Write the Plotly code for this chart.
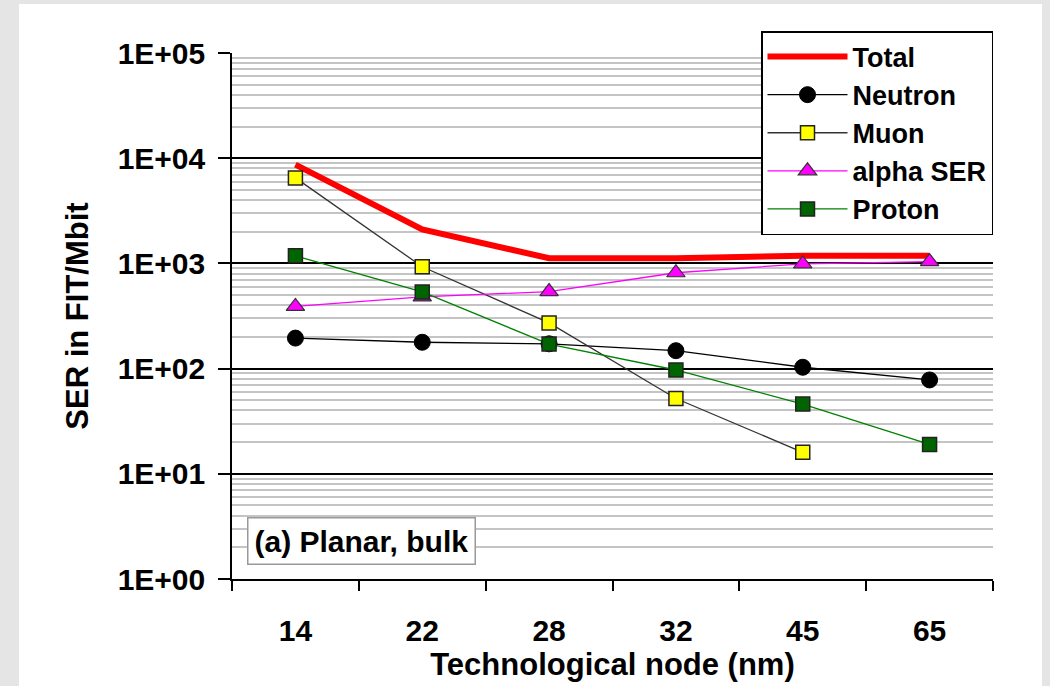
import plotly.graph_objects as go

nodes = ["14", "22", "28", "32", "45", "65"]
total = [8700, 2100, 1120, 1120, 1180, 1180]
neutron = [195, 178, 172, 148, 103, 78]
muon = [6500, 930, 272, 52, 16, None]
alpha = [390, 480, 540, 815, 990, 1040]
proton = [1180, 535, 171, 97, 46, 19]

ytick_vals = [1, 10, 100, 1000, 10000, 100000]
ytick_text = ["1E+00", "1E+01", "1E+02", "1E+03", "1E+04", "1E+05"]

FONT = "Liberation Sans, Arial, sans-serif"
fs = 30
fs_title = 31
fs_leg = 27

fig = go.Figure()
fig.add_trace(go.Scatter(x=nodes, y=total, name="Total", mode="lines",
                         line=dict(color="#ff0000", width=6)))
fig.add_trace(go.Scatter(x=nodes, y=neutron, name="Neutron", mode="lines+markers",
                         line=dict(color="#000000", width=1.3),
                         marker=dict(symbol="circle", size=16, color="#000000",
                                     line=dict(color="#000000", width=1))))
fig.add_trace(go.Scatter(x=nodes, y=muon, name="Muon", mode="lines+markers",
                         line=dict(color="#333333", width=1.3),
                         marker=dict(symbol="square", size=14, color="#ffff00",
                                     line=dict(color="#222222", width=1.5))))
fig.add_trace(go.Scatter(x=nodes, y=alpha, name="alpha SER", mode="lines+markers",
                         line=dict(color="#ff00ff", width=1.3),
                         marker=dict(symbol="triangle-up", size=16, color="#ff00ff",
                                     line=dict(color="#333333", width=1.2))))
fig.add_trace(go.Scatter(x=nodes, y=proton, name="Proton", mode="lines+markers",
                         line=dict(color="#008000", width=1.3),
                         marker=dict(symbol="square", size=14, color="#006400",
                                     line=dict(color="#222222", width=1.5))))

W, H = 1050, 686
L, R, T, B = 232, 993, 53, 579
pw, ph = R - L, B - T

def px(x):
    return (x - L) / pw

def py(y):
    return (B - y) / ph

fig.update_layout(
    width=W, height=H,
    margin=dict(l=L, r=W - R, t=T, b=H - B, pad=0),
    paper_bgcolor="#e5e5e5",
    plot_bgcolor="#ffffff",
    font=dict(family=FONT, size=fs, color="#000000", weight="bold"),
    showlegend=True,
    legend=dict(x=1, xanchor="right", y=py(31), yanchor="top",
                bgcolor="#ffffff", bordercolor="#000000", borderwidth=1.5,
                font=dict(family=FONT, size=fs_leg, weight="bold"),
                itemwidth=80, tracegroupgap=0),
    xaxis=dict(type="category", range=[-0.5, 5.5], tickson="boundaries",
               showline=True, linecolor="#000000", linewidth=1.5,
               ticks="outside", ticklen=10, tickwidth=1.5, tickcolor="#000000",
               showgrid=False, zeroline=False, ticklabelstandoff=24,
               tickfont=dict(family=FONT, size=fs, weight="bold"),
               title=dict(text="Technological node (nm)", standoff=6,
                          font=dict(family=FONT, size=fs_title, weight="bold"))),
    yaxis=dict(type="log", range=[0, 5],
               tickvals=ytick_vals, ticktext=ytick_text,
               showline=True, linecolor="#000000", linewidth=1.5,
               ticks="outside", ticklen=12, tickwidth=1.5, tickcolor="#000000",
               showgrid=True, gridcolor="#000000", gridwidth=1.5,
               zeroline=False, ticklabelstandoff=7,
               minor=dict(showgrid=True, gridcolor="#c4c4c4", gridwidth=2,
                          dtick="D1", ticks=""),
               tickfont=dict(family=FONT, size=fs, weight="bold"),
               title=dict(text="SER in FIT/Mbit", standoff=20,
                          font=dict(family=FONT, size=fs_title, weight="bold"))),
    shapes=[dict(type="rect", xref="paper", yref="paper",
                 x0=px(19), x1=px(1042), y0=py(690), y1=py(4),
                 fillcolor="#ffffff", line=dict(width=0), layer="below")],
    annotations=[dict(text="(a) Planar, bulk", xref="paper", yref="paper",
                      x=px(247), y=py(517), xanchor="left", yanchor="top",
                      showarrow=False, bgcolor="#ffffff",
                      bordercolor="#999999", borderwidth=1.5, borderpad=6,
                      font=dict(family=FONT, size=fs, weight="bold"))],
)

fig.write_html("out.html", config={"displayModeBar": False},
               post_script="document.body.style.margin='0px';")
